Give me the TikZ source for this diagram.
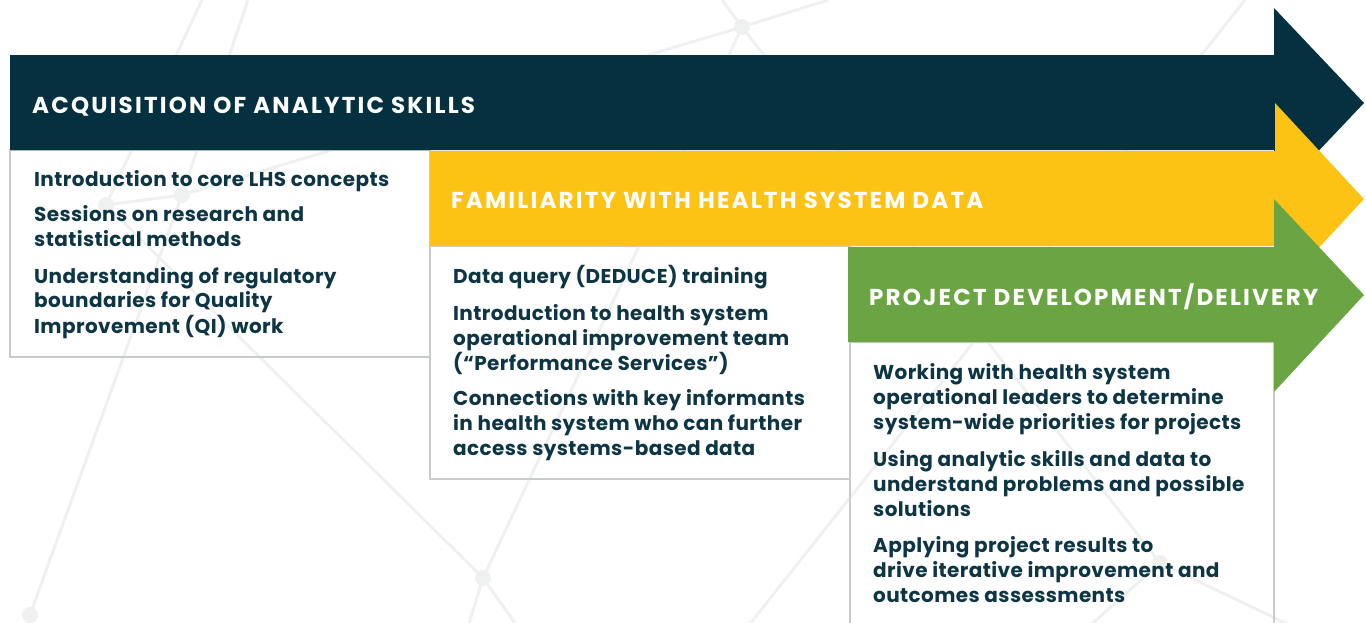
\documentclass[tikz,border=0pt]{standalone}
\usepackage{fontspec}
\setmainfont{Poppins}
\definecolor{navy}{HTML}{04303F}
\definecolor{gold}{HTML}{FDC314}
\definecolor{leaf}{HTML}{6BA543}
\definecolor{ink}{HTML}{0E3544}
\definecolor{rule}{HTML}{C9CCCD}
\definecolor{mesh}{HTML}{EFF1F1}
\tikzset{
  bgline/.style={draw=mesh, line width=3pt},
  bgdot/.style={fill=mesh},
  panel/.style={draw=rule, line width=2.2pt},
  hdr/.style={anchor=base west, inner sep=0pt, text=white,
    font=\fontsize{23}{27}\selectfont\bfseries\addfontfeature{LetterSpace=9.5}},
  item/.style={anchor=base west, inner sep=0pt, text=ink,
    font=\fontsize{20}{24}\selectfont\bfseries\addfontfeature{LetterSpace=2}},
}
\begin{document}
\begin{tikzpicture}[x=1pt, y=-1pt]
\useasboundingbox (0,0) rectangle (1366,622);

% faint network pattern in the background
\coordinate (p1) at (742,27);
\coordinate (p2) at (483,578);
\coordinate (p3) at (30,615);
\coordinate (p4) at (182,195);
\coordinate (p5) at (106,205);
\coordinate (p6) at (1160,563);
\coordinate (e1) at (202,0);
\coordinate (e2) at (248,0);
\coordinate (e3) at (722,0);
\coordinate (e4) at (828,0);
\coordinate (e5) at (1245,0);
\coordinate (e6) at (745,630);
\coordinate (e7) at (467,630);
\coordinate (e8) at (520,630);
\coordinate (e9) at (1085,630);
\coordinate (e10) at (1300,630);
\draw[bgline] (e1) -- (p5) -- (p2) -- (p1) -- (p4) -- (p3);
\draw[bgline] (e2) -- (p4) -- (p5);
\draw[bgline] (e3) -- (p1) -- (e4);
\draw[bgline] (p1) -- (p6) -- (e9);
\draw[bgline] (e5) -- (e6);
\draw[bgline] (e7) -- (p2) -- (e8);
\draw[bgline] (p6) -- (e10);
\foreach \p in {p1,p2,p3,p4,p5,p6}
  \fill[bgdot] (\p) circle (8);

% text panels
\draw[panel] (10,150) rectangle (430,357);
\draw[panel] (430,246) rectangle (850,479);
\draw[panel] (850,342) rectangle (1274,660);

% stage arrows
\fill[navy] (10,55) -- (1274,55) -- (1274,8) -- (1364,103) -- (1274,198)
  -- (1274,150) -- (10,150) -- cycle;
\fill[gold] (430,151) -- (1275,151) -- (1275,103) -- (1364,199) -- (1275,295)
  -- (1275,246) -- (430,246) -- cycle;
\fill[leaf] (848,247) -- (1274,247) -- (1274,199) -- (1364,295) -- (1274,392)
  -- (1274,342) -- (848,342) -- cycle;

% stage titles
\node[hdr] (h1) at (32,113) {ACQUISITION OF ANALYTIC SKILLS};
\node[hdr] (h2) at (451,208) {FAMILIARITY WITH HEALTH SYSTEM DATA};
\node[hdr] (h3) at (869,305) {PROJECT DEVELOPMENT/DELIVERY};

% panel contents
\foreach \yy/\tt [count=\i] in {
  186/{Introduction to core LHS concepts},
  221.5/{Sessions on research and},
  246/{statistical methods},
  283/{Understanding of regulatory},
  307/{boundaries for Quality},
  333/{Improvement (QI) work}}
  \node[item] (a\i) at (34,\yy) {\tt};

\foreach \yy/\tt [count=\i] in {
  283/{Data query (DEDUCE) training},
  320/{Introduction to health system},
  345/{operational improvement team},
  370/{(“Performance Services”)},
  405/{Connections with key informants},
  430/{in health system who can further},
  455/{access systems-based data}}
  \node[item] (b\i) at (453,\yy) {\tt};

\foreach \yy/\tt [count=\i] in {
  379/{Working with health system},
  404/{operational leaders to determine},
  429/{system-wide priorities for projects},
  466/{Using analytic skills and data to},
  491/{understand problems and possible},
  516/{solutions},
  552/{Applying project results to},
  577/{drive iterative improvement and},
  602/{outcomes assessments}}
  \node[item] (c\i) at (873,\yy) {\tt};
\end{tikzpicture}
\end{document}
